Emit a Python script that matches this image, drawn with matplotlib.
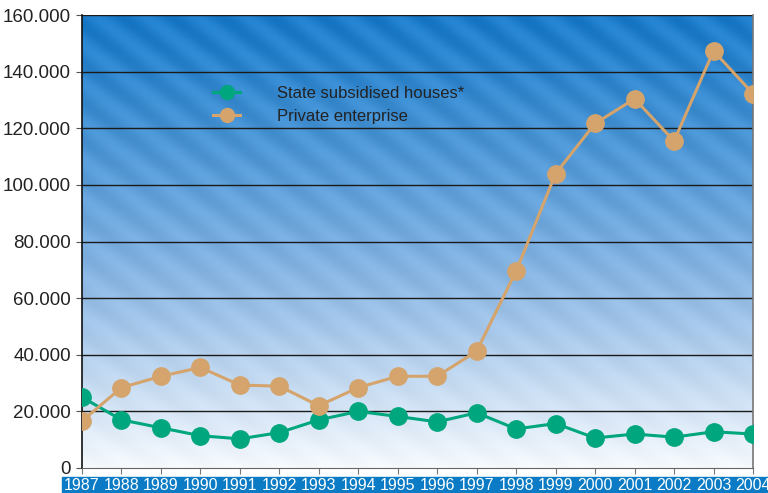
import numpy as np
import matplotlib
matplotlib.use("Agg")
import matplotlib.pyplot as plt
from matplotlib.patches import Rectangle
from matplotlib.ticker import FuncFormatter

plt.rcParams["font.family"] = ["Liberation Sans", "DejaVu Sans"]

years = list(range(1987, 2005))
state_subsidised = [25000, 17000, 14200, 11400, 10300, 12500, 17000, 20000,
                    18200, 16300, 19500, 13800, 15700, 10600, 12000, 10900,
                    12800, 12000]
private_enterprise = [16600, 28400, 32400, 35500, 29300, 28900, 22000, 28400,
                      32400, 32400, 41300, 69600, 104000, 121700, 130400, 115500,
                      147300, 132200]
y_ticks = [0, 20000, 40000, 60000, 80000, 100000, 120000, 140000, 160000]

GREEN = "#00a67e"
TAN = "#d4a46c"

fig = plt.figure(figsize=(7.68, 4.93), dpi=100)
ax = fig.add_axes([82 / 768, 1 - 468 / 493, (753 - 82) / 768, (468 - 15) / 493])

# gradient background with faint diagonal stripes
h, w = 300, 500
yy, xx = np.mgrid[0:h, 0:w]
t = (yy / (h - 1)) ** 1.15  # 0 at top, 1 at bottom
top = np.array([0x1c, 0x7c, 0xca]) / 255
mid = np.array([0x8d, 0xb8, 0xe4]) / 255
bot = np.array([0xf6, 0xf9, 0xfd]) / 255
img = np.zeros((h, w, 3))
for c in range(3):
    img[..., c] = np.where(t < 0.55, top[c] + (mid[c] - top[c]) * t / 0.55,
                           mid[c] + (bot[c] - mid[c]) * (t - 0.55) / 0.45)
stripe = 0.035 * np.sin((xx * 0.75 - yy * 1.1) * 2 * np.pi / 28)
img = np.clip(img + stripe[..., None] * (1 - t[..., None] * 0.8), 0, 1)
ax.imshow(img, extent=[years[0], years[-1], 0, 160000], aspect="auto",
          origin="upper", zorder=0)

for v in y_ticks[1:]:
    ax.axhline(v, color="#1a1a1a", lw=1.0, zorder=1)

ax.plot(years, state_subsidised, color=GREEN, lw=2.2, marker="o", ms=12.5,
        zorder=3, label="State subsidised houses*")
ax.plot(years, private_enterprise, color=TAN, lw=2.2, marker="o", ms=12.5,
        zorder=3, label="Private enterprise")

ax.set_xlim(years[0], years[-1])
ax.set_ylim(0, 160000)
ax.set_yticks(y_ticks)
ax.yaxis.set_major_formatter(FuncFormatter(
    lambda v, p: "0" if v == 0 else f"{int(v):,}".replace(",", ".")))
ax.set_xticks(years)
ax.set_xticklabels([str(y) for y in years], color="white", fontsize=11.5)
ax.tick_params(axis="y", labelsize=13.5, labelcolor="#222222", length=4,
               color="#555555", pad=4)
ax.tick_params(axis="x", length=4, color="#777777", pad=3)

ax.spines["left"].set_color("#111111")
ax.spines["left"].set_linewidth(1.2)
ax.spines["bottom"].set_color("#666666")
ax.spines["right"].set_color("#777777")
ax.spines["right"].set_linewidth(1.2)
ax.spines["top"].set_visible(False)

# blue band behind year labels
band = Rectangle((62 / 768, 0), 1 - 62 / 768, 16 / 493,
                 transform=fig.transFigure, color="#0a7bc4", zorder=-1)
fig.patches.append(band)

leg = ax.legend(loc="upper left", bbox_to_anchor=(0.195, 0.843), frameon=False,
                fontsize=12, handlelength=1.65, handletextpad=2.2,
                labelspacing=0.45, markerscale=0.8, borderpad=0,
                borderaxespad=0)
for txt in leg.get_texts():
    txt.set_color("#222222")

fig.savefig("out.png", dpi=100)
